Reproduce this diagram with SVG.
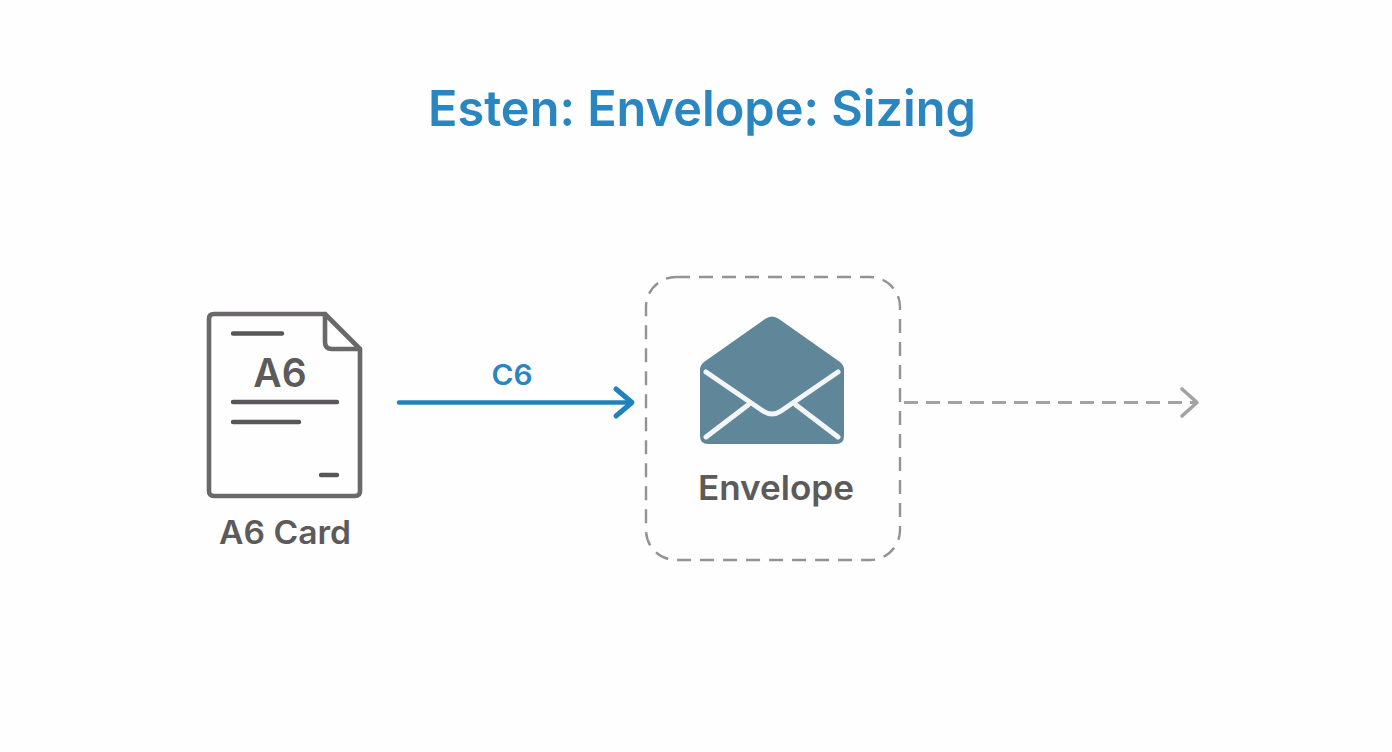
<svg xmlns="http://www.w3.org/2000/svg" width="1392" height="752" viewBox="0 0 1392 752">
<style>
text{font-family:Inter,"Liberation Sans",Arial,sans-serif}
.lab{fill:#5c5a5b;font-weight:600}
.doc{fill:none;stroke:#6a686b;stroke-width:4.600;stroke-linecap:round;stroke-linejoin:round}
.ln{fill:none;stroke:#58565a;stroke-width:4.400;stroke-linecap:round}
</style>
<rect width="1392" height="752" fill="#fefefe"/>
<text id="title" x="702" y="126" text-anchor="middle" font-size="50" font-weight="600" fill="#2a86c1" textLength="548" lengthAdjust="spacingAndGlyphs">Esten: Envelope: Sizing</text>
<g id="card">
<path class="doc" d="M325 314H214Q209 314 209 319V491Q209 496 214 496H355Q360 496 360 491V349Z"/>
<path class="doc" d="M325 314V342Q325 349 332 349H360"/>
<path class="ln" d="M233 333.500H282M233 402H337M233 422H299M321 475H337"/>
<text x="280" y="387" text-anchor="middle" font-size="39" class="lab">A6</text>
<text x="285" y="544" text-anchor="middle" font-size="32" class="lab" textLength="132" lengthAdjust="spacingAndGlyphs">A6 Card</text>
</g>
<g id="envelope">
<rect x="646" y="277" width="254" height="283" rx="30" fill="none" stroke="#939393" stroke-width="2.400" stroke-dasharray="14 9"/>
<path d="M765 319Q772 314 779 319L840 362Q844 365 844 370V436Q844 444 836 444H708Q700 444 700 436V370Q700 365 704 362Z" fill="#5f8799"/>
<path d="M706 372L763 411Q772 417 781 411L838 372M748 405L706 437M796 405L838 437" fill="none" stroke="#f2f6f7" stroke-width="5" stroke-linecap="round" stroke-linejoin="round"/>
<text x="776" y="500" text-anchor="middle" font-size="34" class="lab" textLength="156" lengthAdjust="spacingAndGlyphs">Envelope</text>
</g>
<g id="connectors">
<path d="M399 402.500H630" fill="none" stroke="#2082bd" stroke-width="4.400" stroke-linecap="round"/>
<path d="M616 389L632 402.500L616 416" fill="none" stroke="#2082bd" stroke-width="5" stroke-linecap="round" stroke-linejoin="round"/>
<text x="512" y="385" text-anchor="middle" font-size="28" font-weight="600" fill="#2a86c1" textLength="41" lengthAdjust="spacingAndGlyphs">C6</text>
<path d="M904 402.500H1196" fill="none" stroke="#a3a3a3" stroke-width="3" stroke-dasharray="14 8"/>
<path d="M1182 389L1197 402.500L1182 416" fill="none" stroke="#a3a3a3" stroke-width="3.600" stroke-linecap="round" stroke-linejoin="round"/>
</g>
</svg>
